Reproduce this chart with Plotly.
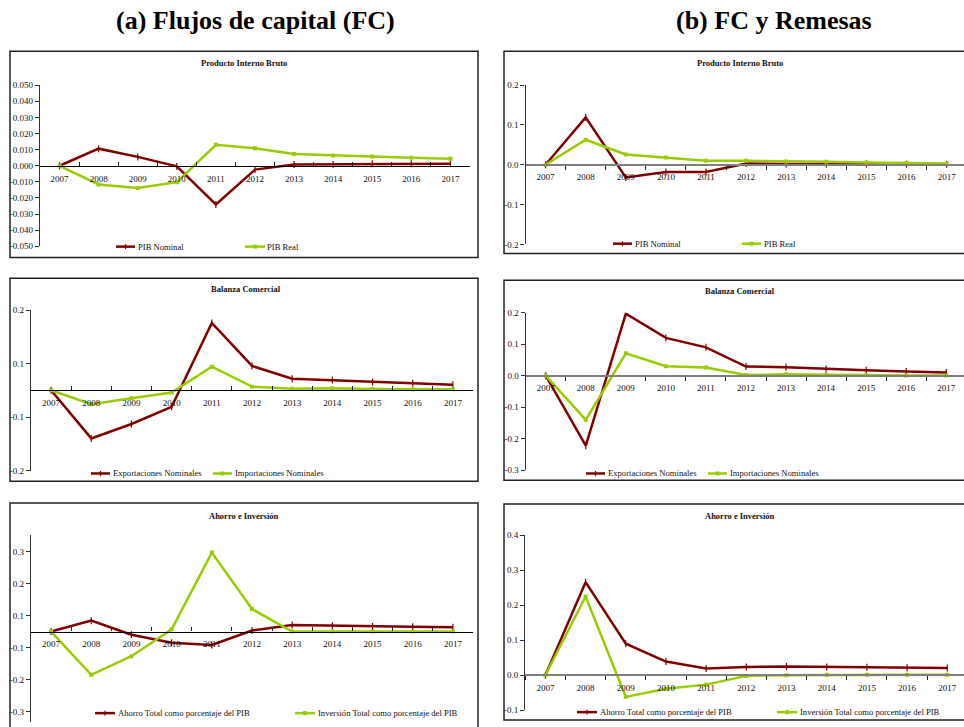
import plotly.graph_objects as go

W, H = 964, 727

# ---------------- data ----------------
years = ['2007', '2008', '2009', '2010', '2011', '2012', '2013', '2014', '2015', '2016', '2017']

# (a) Flujos de capital (FC)
a_pib_nominal = [0, 0.0106, 0.0055, -0.0004, -0.0240, -0.0024, 0.0008, 0.0008, 0.0012, 0.0012, 0.0012]
a_pib_real = [0, -0.0116, -0.0138, -0.0102, 0.0130, 0.0108, 0.0073, 0.0063, 0.0057, 0.0049, 0.0043]
a_export = [0, -0.090, -0.063, -0.031, 0.126, 0.0455, 0.0215, 0.019, 0.0154, 0.013, 0.0105]
a_import = [0, -0.026, -0.0148, -0.0043, 0.044, 0.0068, 0.003, 0.0037, 0.0025, 0.002, 0.002]
a_ahorro = [0, 0.034, -0.010, -0.035, -0.042, 0.003, 0.0205, 0.018, 0.016, 0.015, 0.013]
a_inversion = [0, -0.135, -0.077, 0.007, 0.246, 0.070, 0.0, 0.0, 0.0, 0.0, 0.0]

# (b) FC y Remesas
b_pib_nominal = [0, 0.119, -0.032, -0.018, -0.018, 0.003, 0.002, 0.002, 0.002, 0.001, 0.001]
b_pib_real = [0, 0.063, 0.026, 0.018, 0.010, 0.010, 0.008, 0.0075, 0.006, 0.005, 0.0035]
b_export = [0, -0.222, 0.197, 0.120, 0.090, 0.029, 0.027, 0.021, 0.017, 0.0135, 0.0105]
b_import = [0, -0.140, 0.071, 0.030, 0.026, 0.002, 0.005, 0.003, 0.002, 0.001, 0.001]
b_ahorro = [0, 0.266, 0.090, 0.039, 0.019, 0.0235, 0.025, 0.0235, 0.0225, 0.0215, 0.0205]
b_inversion = [0, 0.225, -0.062, -0.039, -0.027, -0.002, 0.0, 0.001, 0.001, 0.001, 0.001]

# tick values / labels
a_pib_tickvals = [-0.05, -0.04, -0.03, -0.02, -0.01, 0.0, 0.01, 0.02, 0.03, 0.04, 0.05]
a_pib_ticktext = ['-0.050', '-0.040', '-0.030', '-0.020', '-0.010', '0.000',
                  '0.010', '0.020', '0.030', '0.040', '0.050']
a_bc_tickvals = [-0.15, -0.05, 0.05, 0.15]
a_bc_ticktext = ['-0.2', '-0.1', '0.1', '0.2']
a_ai_tickvals = [-0.25, -0.15, -0.05, 0.05, 0.15, 0.25]
a_ai_ticktext = ['-0.3', '-0.2', '-0.1', '0.1', '0.2', '0.3']
b_pib_tickvals = [-0.2, -0.1, 0.0, 0.1, 0.2]
b_pib_ticktext = ['-0.2', '-0.1', '0.0', '0.1', '0.2']
b_bc_tickvals = [-0.3, -0.2, -0.1, 0.0, 0.1, 0.2]
b_bc_ticktext = ['-0.3', '-0.2', '-0.1', '0.0', '0.1', '0.2']
b_ai_tickvals = [-0.1, 0.0, 0.1, 0.2, 0.3, 0.4]
b_ai_ticktext = ['-0.1', '0.0', '0.1', '0.2', '0.3', '0.4']

main_titles = ['(a) Flujos de capital (FC)', '(b) FC y Remesas']
panel_titles = ['Producto Interno Bruto', 'Balanza Comercial', 'Ahorro e Inversión']
names_pib = ['PIB Nominal', 'PIB Real']
names_bc = ['Exportaciones Nominales', 'Importaciones Nominales']
names_ai = ['Ahorro Total como porcentaje del PIB', 'Inversión Total como porcentaje del PIB']

# ---------------- styling ----------------
RED = '#800000'
GREEN = '#99CC00'
FONT = 'Liberation Serif, Times New Roman, serif'


def fx(px):
    return px / W


def fy(py):
    return 1 - py / H


panels = [
    # left column
    dict(s1=a_pib_nominal, s2=a_pib_real, names=names_pib, title=panel_titles[0],
         tv=a_pib_tickvals, tt=a_pib_ticktext, yr=[-0.05, 0.05],
         x0=40, x1=470, xr=[-0.5, 10.5], ytop=81.3, ybot=244.7,
         box=(10, 47, 478, 256), tpos=(244, 58.5),
         leg=((116, 135, 137), (245, 265, 266), 245),
         zc='#000000', zw=1.3, ticks='inside'),
    dict(s1=a_export, s2=a_import, names=names_bc, title=panel_titles[1],
         tv=a_bc_tickvals, tt=a_bc_ticktext, yr=[-0.15, 0.15],
         x0=31, x1=473, xr=[-0.5, 10.5], ytop=309.3, ybot=472,
         box=(10, 277, 478, 483), tpos=(246, 288),
         leg=((91, 110, 112), (213, 232, 234), 475),
         zc='#000000', zw=1.3, ticks='inside'),
    dict(s1=a_ahorro, s2=a_inversion, names=names_ai, title=panel_titles[2],
         tv=a_ai_tickvals, tt=a_ai_ticktext, yr=[-0.282, 0.30],
         x0=31, x1=473, xr=[-0.5, 10.5], ytop=537.7, ybot=727,
         box=(10, 505, 478, 740), tpos=(244, 518),
         leg=((95, 115, 117), (295, 315, 317), 718),
         zc='#000000', zw=1.3, ticks='inside'),
    # right column
    dict(s1=b_pib_nominal, s2=b_pib_real, names=names_pib, title=panel_titles[0],
         tv=b_pib_tickvals, tt=b_pib_ticktext, yr=[-0.2, 0.2],
         x0=525.5, x1=964, xr=[-0.5, -0.5 + (964 - 525.6) / 40.1], ytop=81.3, ybot=242.7,
         box=(504, 47, 970, 252), tpos=(740, 58.5),
         leg=((613, 632, 634), (742, 761, 763), 242),
         zc='#7f7f7f', zw=1.8, ticks='outside'),
    dict(s1=b_export, s2=b_import, names=names_bc, title=panel_titles[1],
         tv=b_bc_tickvals, tt=b_bc_ticktext, yr=[-0.3, 0.2],
         x0=525.7, x1=964, xr=[-0.5, -0.5 + (964 - 526.3) / 40.0], ytop=312, ybot=471.7,
         box=(504, 279, 970, 482), tpos=(739.5, 290),
         leg=((586, 605, 607), (708, 727, 729), 475),
         zc='#7f7f7f', zw=1.8, ticks='outside'),
    dict(s1=b_ahorro, s2=b_inversion, names=names_ai, title=panel_titles[2],
         tv=b_ai_tickvals, tt=b_ai_ticktext, yr=[-0.1, 0.4],
         x0=525.3, x1=964, xr=[-0.5, -0.5 + (964 - 525.6) / 40.16], ytop=537.7, ybot=715,
         box=(504, 506, 970, 725), tpos=(740, 518.5),
         leg=((577, 597, 599), (777, 797, 799), 717),
         zc='#7f7f7f', zw=1.8, ticks='outside'),
]

fig = go.Figure()
layout = dict(
    width=W, height=H, autosize=False,
    margin=dict(l=0, r=0, t=0, b=0),
    paper_bgcolor='white', plot_bgcolor='white',
    font=dict(family=FONT, size=9, color='#111111'),
    showlegend=False,
)
shapes = []
annotations = []

for i, p in enumerate(panels, start=1):
    xa = 'x' if i == 1 else f'x{i}'
    ya = 'y' if i == 1 else f'y{i}'

    fig.add_trace(go.Scatter(
        x=years, y=p['s1'], name=p['names'][0], mode='lines+markers',
        line=dict(color=RED, width=2.5),
        marker=dict(symbol='line-ns', size=5, color=RED, line=dict(color=RED, width=1.2)),
        xaxis=xa, yaxis=ya, hoverinfo='x+y+name'))
    fig.add_trace(go.Scatter(
        x=years, y=p['s2'], name=p['names'][1], mode='lines+markers',
        line=dict(color=GREEN, width=2.5),
        marker=dict(symbol='square', size=4, color=GREEN),
        xaxis=xa, yaxis=ya, hoverinfo='x+y+name'))

    yd0, yd1 = fy(p['ybot']), fy(p['ytop'])
    r0, r1 = p['yr']
    yd0c = max(0.0, yd0)
    # position of the category axis at y = 0 (Excel "axis crosses at 0")
    zero_pos = yd0 + (0 - r0) / (r1 - r0) * (yd1 - yd0)
    r0c = r0 + (yd0c - yd0) / (yd1 - yd0) * (r1 - r0)

    layout['xaxis' if i == 1 else f'xaxis{i}'] = dict(
        type='category', domain=[fx(p['x0']), min(1.0, fx(p['x1']))], range=p['xr'],
        anchor='free', position=zero_pos,
        showline=True, linecolor=p['zc'], linewidth=p['zw'],
        ticks=p['ticks'], tickson='boundaries', ticklen=4, tickwidth=1, tickcolor='#222222',
        ticklabelstandoff=4,
        tickfont=dict(family=FONT, size=9, color='#111111'),
        showgrid=False, zeroline=False, fixedrange=True,
    )
    layout['yaxis' if i == 1 else f'yaxis{i}'] = dict(
        domain=[yd0c, yd1], range=[r0c, r1], anchor=xa,
        tickmode='array', tickvals=p['tv'], ticktext=p['tt'],
        showline=True, linecolor='#333333', linewidth=1.3,
        ticks='outside', ticklen=4, tickwidth=1, tickcolor='#333333',
        tickfont=dict(family=FONT, size=9, color='#111111'),
        showgrid=False, zeroline=False, fixedrange=True,
    )

    # panel frame
    bx0, by0, bx1, by1 = p['box']
    shapes.append(dict(type='rect', xref='paper', yref='paper',
                       x0=fx(bx0), x1=fx(bx1), y0=fy(by1), y1=fy(by0),
                       line=dict(color='#222222', width=1.5), fillcolor='rgba(0,0,0,0)'))
    # panel title
    annotations.append(dict(text=f"<b>{p['title']}</b>", xref='paper', yref='paper',
                            x=fx(p['tpos'][0]), y=fy(p['tpos'][1]),
                            xanchor='center', yanchor='middle', showarrow=False,
                            font=dict(family=FONT, size=8.5, color='#111111')))
    # legend (sample line + marker + label)
    (r_a, r_b, r_t), (g_a, g_b, g_t), ly = p['leg']
    for (sa, sb, st), col, nm, mk in (((r_a, r_b, r_t), RED, p['names'][0], 'tick'),
                                      ((g_a, g_b, g_t), GREEN, p['names'][1], 'square')):
        shapes.append(dict(type='line', xref='paper', yref='paper',
                           x0=fx(sa), x1=fx(sb), y0=fy(ly), y1=fy(ly),
                           line=dict(color=col, width=2.5)))
        mx = (sa + sb) / 2
        if mk == 'tick':
            shapes.append(dict(type='line', xref='paper', yref='paper',
                               x0=fx(mx), x1=fx(mx), y0=fy(ly - 2.5), y1=fy(ly + 2.5),
                               line=dict(color=col, width=1.2)))
        else:
            shapes.append(dict(type='rect', xref='paper', yref='paper',
                               x0=fx(mx - 2), x1=fx(mx + 2), y0=fy(ly + 2), y1=fy(ly - 2),
                               line=dict(width=0), fillcolor=col))
        annotations.append(dict(text=nm, xref='paper', yref='paper',
                                x=fx(st), y=fy(ly), xanchor='left', yanchor='middle',
                                showarrow=False, xshift=-1,
                                font=dict(family=FONT, size=8.6, color='#111111')))

annotations.append(dict(text=f'<b>{main_titles[0]}</b>', xref='paper', yref='paper',
                        x=fx(255), y=fy(16), xanchor='center', yanchor='middle', showarrow=False,
                        font=dict(family=FONT, size=26, color='#000000')))
annotations.append(dict(text=f'<b>{main_titles[1]}</b>', xref='paper', yref='paper',
                        x=fx(774), y=fy(16), xanchor='center', yanchor='middle', showarrow=False,
                        font=dict(family=FONT, size=26, color='#000000')))

layout['shapes'] = shapes
layout['annotations'] = annotations
fig.update_layout(**layout)

# remove the browser's default 8px page margin so the 964x727 figure fills the window
fig.write_html('out.html',
               config={'displayModeBar': False},
               post_script="document.body.style.margin='0';"
                           "document.documentElement.style.overflow='hidden';")
